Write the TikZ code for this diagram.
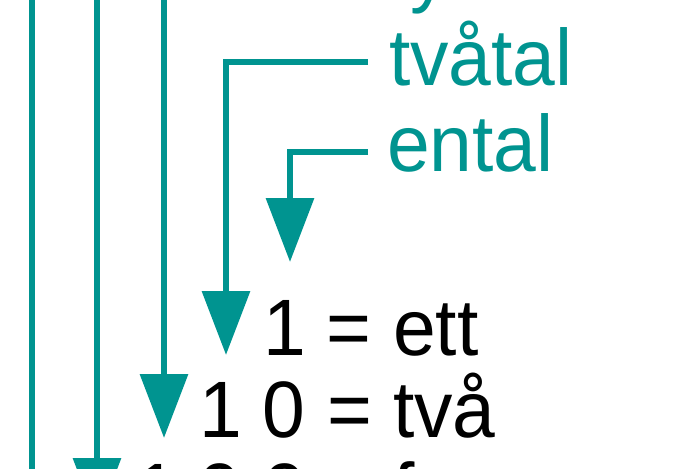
\documentclass[tikz,border=0pt]{standalone}
\usepackage{fontspec}
\setmainfont{Liberation Sans}
\newfontfamily\narrowsans[FakeStretch=0.96]{Liberation Sans}
\usetikzlibrary{arrows.meta}
\definecolor{tealc}{RGB}{0,148,144}
\begin{document}
\begin{tikzpicture}[x=1pt,y=-1pt,
  conn/.style={draw=tealc, line width=6.5pt, line join=miter},
  tipped/.style={conn, -{Triangle[length=64pt,width=47pt]}},
  bigtext/.style={font=\narrowsans\fontsize{80}{96}\selectfont, anchor=base west, inner sep=0pt, outer sep=0pt},
  lab/.style={bigtext, text=tealc},
  num/.style={bigtext, text=black}]
\useasboundingbox (0,0) rectangle (700,468);
\clip (0,0) rectangle (700,468);
\fill[white] (0,0) rectangle (700,468);
% labels
\node[lab] (fyrtal) at (389,-2) {fyrtal};
\node[lab] (tvatal) at (389,85) {tvåtal};
\node[lab] (ental) at (387,171) {ental};
\node[num] (r1) at (263,355) {1 = ett};
\node[num] (r2) at (199,437) {1 0 = två};
\node[num] (r3) at (135,519) {1 0 0 = fyra};
% free ends
\coordinate (s1) at (32,-150);
\coordinate (e1) at (32,620);
\coordinate (s2) at (97,-150);
\coordinate (e2) at (97,522);
\coordinate (s3) at (164,-150);
\coordinate (e3) at (164,438);
\coordinate (t4) at (368,62);
\coordinate (e4) at (226,355);
\coordinate (t5) at (368,152);
\coordinate (e5) at (290,262);
% connectors
\draw[conn] (s1) -- (e1);
\draw[tipped] (s2) -- (e2);
\draw[tipped] (s3) -- (e3);
\draw[tipped] (t4) -| (e4);
\draw[tipped] (t5) -| (e5);
\end{tikzpicture}
\end{document}
